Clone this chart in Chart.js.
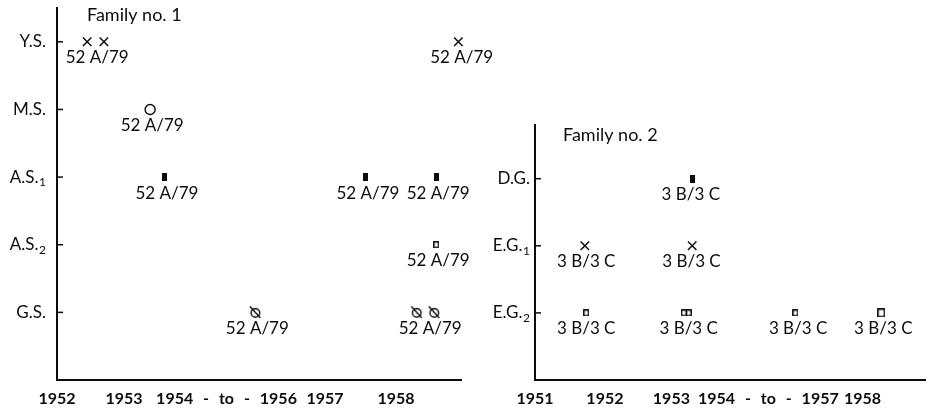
<!DOCTYPE html>
<html><head><meta charset="utf-8">
<script src="https://cdn.jsdelivr.net/npm/chart.js@4/dist/chart.umd.min.js"></script>
<style>
html,body{margin:0;padding:0;background:#fff;}
#wrap{position:relative;width:933px;height:410px;overflow:hidden;background:#fff;}
#c1{position:absolute;left:0;top:0;}
#c2{position:absolute;left:470px;top:0;}
</style></head><body>
<div id="wrap"><canvas id="c1" width="500" height="410"></canvas><canvas id="c2" width="463" height="410"></canvas></div>
<script>
// ---------- Family no. 1 ----------
const fam1Title = 'Family no. 1';
const fam1Stages = ['G.S.', 'A.S.2', 'A.S.1', 'M.S.', 'Y.S.'];        // bottom -> top
const fam1YearLabels = ['1952', '1953', '1954 - to - 1956', '1957', '1958'];
const fam1YearPos = [0, 1, 2.53, 4.0, 5.06];
const fam1Crosses = [[0.45, 'Y.S.'], [0.70, 'Y.S.'], [5.99, 'Y.S.']];
const fam1Circles = [[1.39, 'M.S.']];
const fam1Filled = [[1.60, 'A.S.1'], [4.61, 'A.S.1'], [5.66, 'A.S.1']];
const fam1Open = [[5.66, 'A.S.2']];
const fam1Slashed = [[2.96, 'G.S.'], [5.37, 'G.S.'], [5.63, 'G.S.']];
const fam1Strains = [
  [0.60, 'Y.S.', '52 A/79'], [6.04, 'Y.S.', '52 A/79'],
  [1.42, 'M.S.', '52 A/79'],
  [1.64, 'A.S.1', '52 A/79'], [4.64, 'A.S.1', '52 A/79'], [5.69, 'A.S.1', '52 A/79'],
  [5.69, 'A.S.2', '52 A/79'],
  [2.99, 'G.S.', '52 A/79'], [5.57, 'G.S.', '52 A/79']
];

// ---------- Family no. 2 ----------
const fam2Title = 'Family no. 2';
const fam2Stages = ['E.G.2', 'E.G.1', 'D.G.'];                          // bottom -> top
const fam2YearLabels = ['1951', '1952', '1953', '1954 - to - 1957', '1958'];
const fam2YearPos = [0, 1.01, 1.97, 3.37, 4.73];
const fam2Crosses = [[0.72, 'E.G.1'], [2.27, 'E.G.1']];
const fam2Filled = [[2.27, 'D.G.']];
const fam2Open = [[0.74, 'E.G.2'], [2.15, 'E.G.2'], [2.22, 'E.G.2'], [3.76, 'E.G.2']];
const fam2OpenLarge = [[5.0, 'E.G.2']];
const fam2Strains = [
  [2.25, 'D.G.', '3 B/3 C'],
  [0.74, 'E.G.1', '3 B/3 C'], [2.26, 'E.G.1', '3 B/3 C'],
  [0.74, 'E.G.2', '3 B/3 C'], [2.22, 'E.G.2', '3 B/3 C'], [3.80, 'E.G.2', '3 B/3 C'], [5.03, 'E.G.2', '3 B/3 C']
];

// ---------- marker glyphs ----------
const INK = '#0c0c0c';
function mk(w, h, draw) { const c = document.createElement('canvas'); c.width = w; c.height = h; const g = c.getContext('2d'); g.strokeStyle = INK; g.fillStyle = INK; draw(g); return c; }
const filledRect = mk(5, 8, g => g.fillRect(0, 0, 5, 8));
const openRect = mk(6, 7, g => { g.lineWidth = 1.4; g.strokeRect(0.75, 0.75, 4.5, 5.5); });
const openRectLarge = mk(8, 9, g => { g.lineWidth = 1.5; g.strokeRect(0.8, 0.8, 6.4, 7.4); });
const slashCircle = mk(15, 15, g => {
  g.lineWidth = 1.4; g.beginPath(); g.arc(7.5, 8, 4.3, 0, Math.PI * 2); g.stroke();
  g.beginPath(); g.moveTo(2, 1.5); g.lineTo(12.5, 13); g.stroke();
});

function pts(list, stages) { return list.map(([x, s]) => ({ x, y: stages.indexOf(s) + 1 })); }
function ds(list, stages, style, extra) {
  return Object.assign({ data: pts(list, stages), pointStyle: style, borderColor: INK, backgroundColor: '#fff', showLine: false, clip: false }, extra || {});
}

const annot = {
  id: 'annot',
  afterDraw(chart, args, o) {
    const { ctx, chartArea: a, scales: { x, y } } = chart;
    ctx.save();
    ctx.fillStyle = INK; ctx.strokeStyle = INK;
    // title
    ctx.font = '18px Lato'; ctx.textAlign = 'left'; ctx.textBaseline = 'middle';
    ctx.fillText(o.title, a.left + o.titleDx, a.top + o.titleDy);
    // stage labels + inward ticks
    o.stages.forEach((s, i) => {
      const py = y.getPixelForValue(i + 1);
      ctx.lineWidth = 1.5; ctx.beginPath(); ctx.moveTo(a.left, py); ctx.lineTo(a.left + 6, py); ctx.stroke();
      const m = s.match(/^(.*\.)(\d)$/);
      const base = m ? m[1] : s, sub = m ? m[2] : '';
      let rx = a.left - o.labelGap;
      ctx.textAlign = 'right'; ctx.textBaseline = 'middle';
      if (sub) { ctx.font = '12px Lato'; ctx.fillText(sub, rx, py + 5); rx -= ctx.measureText(sub).width + 0.5; }
      ctx.font = '17px Lato'; ctx.fillText(base, rx, py);
    });
    // year labels
    ctx.font = 'bold 16px Lato'; ctx.textAlign = 'center'; ctx.textBaseline = 'middle';
    try { ctx.wordSpacing = '6px'; } catch (e) {}
    o.yearLabels.forEach((t, i) => ctx.fillText(t, x.getPixelForValue(o.yearPos[i]), a.bottom + 19));
    try { ctx.wordSpacing = '0px'; } catch (e) {}
    // strain labels
    ctx.font = '17px Lato'; ctx.textAlign = 'center'; ctx.textBaseline = 'middle';
    o.strains.forEach(([sx, st, txt]) => {
      ctx.fillText(txt, x.getPixelForValue(sx), y.getPixelForValue(o.stages.indexOf(st) + 1) + 16);
    });
    ctx.restore();
  }
};

function makeChart(id, c) {
  return new Chart(document.getElementById(id), {
    type: 'scatter',
    data: { datasets: c.datasets },
    options: {
      responsive: false, animation: false, events: [],
      layout: { padding: { left: 0, right: c.padRight, top: c.padTop, bottom: 0 } },
      plugins: { legend: { display: false }, tooltip: { enabled: false },
        annot: { title: c.title, titleDx: c.titleDx, titleDy: c.titleDy, stages: c.stages, labelGap: c.labelGap,
                 yearLabels: c.yearLabels, yearPos: c.yearPos, strains: c.strains } },
      scales: {
        x: { type: 'linear', min: 0, max: c.xMax,
             grid: { display: false, drawTicks: false }, border: { display: true, color: INK, width: 2 },
             ticks: { display: false }, afterFit: s => { s.height = 30; } },
        y: { type: 'linear', min: 0, max: c.yMax,
             grid: { display: false, drawTicks: false }, border: { display: true, color: INK, width: 2 },
             ticks: { display: false }, afterFit: s => { s.width = c.yWidth; } }
      }
    },
    plugins: [annot]
  });
}

makeChart('c1', {
  title: fam1Title, titleDx: 30, titleDy: 7, stages: fam1Stages, labelGap: 11,
  yearLabels: fam1YearLabels, yearPos: fam1YearPos, strains: fam1Strains,
  xMax: 6.03, yMax: 5.5, yWidth: 57, padTop: 8, padRight: 39,
  datasets: [
    ds(fam1Crosses, fam1Stages, 'crossRot', { pointRadius: 6, borderWidth: 1.5 }),
    ds(fam1Circles, fam1Stages, 'circle', { pointRadius: 5, borderWidth: 1.4 }),
    ds(fam1Filled, fam1Stages, filledRect),
    ds(fam1Open, fam1Stages, openRect),
    ds(fam1Slashed, fam1Stages, slashCircle)
  ]
});

makeChart('c2', {
  title: fam2Title, titleDx: 28, titleDy: 10, stages: fam2Stages, labelGap: 5,
  yearLabels: fam2YearLabels, yearPos: fam2YearPos, strains: fam2Strains,
  xMax: 5.64, yMax: 3.8, yWidth: 65, padTop: 125, padRight: 3,
  datasets: [
    ds(fam2Crosses, fam2Stages, 'crossRot', { pointRadius: 6, borderWidth: 1.5 }),
    ds(fam2Filled, fam2Stages, filledRect),
    ds(fam2Open, fam2Stages, openRect),
    ds(fam2OpenLarge, fam2Stages, openRectLarge)
  ]
});
</script>
</body></html>
